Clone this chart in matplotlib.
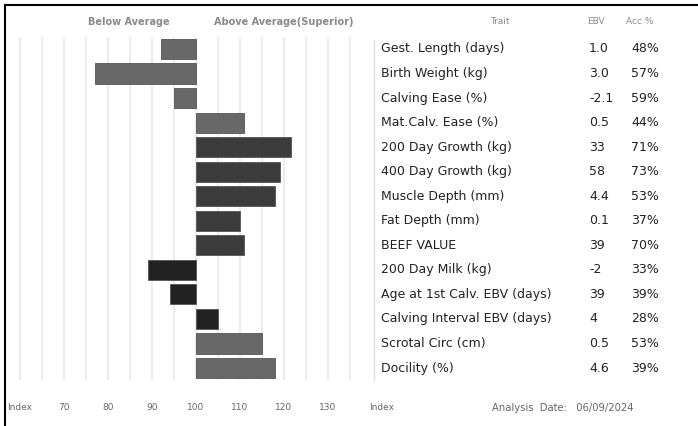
import matplotlib.pyplot as plt
from matplotlib.lines import Line2D
from matplotlib.transforms import blended_transform_factory

# ── data ─────────────────────────────────────────────
traits = [
    "Gest. Length (days)", "Birth Weight (kg)", "Calving Ease (%)",
    "Mat.Calv. Ease (%)", "200 Day Growth (kg)", "400 Day Growth (kg)",
    "Muscle Depth (mm)", "Fat Depth (mm)", "BEEF VALUE", "200 Day Milk (kg)",
    "Age at 1st Calv. EBV (days)", "Calving Interval EBV (days)",
    "Scrotal Circ (cm)", "Docility (%)",
]
ebv = ["1.0", "3.0", "-2.1", "0.5", "33", "58", "4.4", "0.1", "39", "-2",
       "39", "4", "0.5", "4.6"]
acc = ["48%", "57%", "59%", "44%", "71%", "73%", "53%", "37%", "70%", "33%",
       "39%", "28%", "53%", "39%"]
index_vals = [92, 77, 95, 111, 121.5, 119, 118, 110, 111, 89, 94, 105, 115, 118]
index_ticks = [70, 80, 90, 100, 110, 120, 130]
analysis_date = "06/09/2024"

# ── styles ───────────────────────────────────────────
GRAY, DARK, BLACK = "#686868", "#3c3c3c", "#222222"
bar_colors = [GRAY] * 4 + [DARK] * 5 + [BLACK] * 3 + [GRAY] * 2

W, H = 698, 426
fig = plt.figure(figsize=(W / 100, H / 100), dpi=100)
fig.patch.set_facecolor("white")

def fx(px):
    return px / W

def fy(py):
    return 1 - py / H

# bar axes: x pixel = 196 + (v - 100) * 4.4
left_px, right_px = 5, 370
top_px, bot_px = 36.7, 380.3
ax = fig.add_axes([fx(left_px), fy(bot_px), fx(right_px - left_px), (bot_px - top_px) / H])
ax.set_xlim(100 - (196 - left_px) / 4.4, 100 + (right_px - 196) / 4.4)
ax.set_ylim(len(traits) - 0.5, -0.5)
ax.axis("off")

for g in range(60, 140, 5):
    ax.axvline(g, color="#ececec", lw=1.5, zorder=0)

rows = list(range(len(traits)))
ax.barh(rows, [v - 100 for v in index_vals], left=100, height=0.82,
        color=bar_colors, edgecolor="#555555", linewidth=0.6, zorder=2)

# bottom index labels
tr = blended_transform_factory(ax.transData, fig.transFigure)
lab_y = fy(408)
small = dict(fontsize=6.5, color="#666666", family="DejaVu Sans", va="center")
ax.text(60, lab_y, "Index", ha="center", transform=tr, **small)
for t in index_ticks:
    ax.text(t, lab_y, str(t), ha="center", transform=tr, **small)
fig.text(fx(382), lab_y, "Index", ha="center", **small)
fig.text(fx(563), lab_y, "Analysis  Date:   " + analysis_date, ha="center",
         **dict(small, fontsize=7.2))

# headers
head = dict(fontsize=7, color="#8a8a8a", family="DejaVu Sans", va="center",
            fontweight="bold")
fig.text(fx(129), fy(22), "Below Average", ha="center", **head)
fig.text(fx(284), fy(22), "Above Average(Superior)", ha="center", **head)
light = dict(fontsize=6.5, color="#8a8a8a", family="DejaVu Sans", va="center")
fig.text(fx(500), fy(22), "Trait", ha="center", **light)
fig.text(fx(596), fy(22), "EBV", ha="center", **light)
fig.text(fx(640), fy(22), "Acc %", ha="center", **light)

# trait table
ax_t = fig.add_axes([fx(370), fy(bot_px), fx(W - 370), (bot_px - top_px) / H])
ax_t.set_xlim(370, W)
ax_t.set_ylim(len(traits) - 0.5, -0.5)
ax_t.axis("off")
row_font = dict(fontsize=9, color="#222222", family="DejaVu Sans", va="center")
for i, (tr_name, e, a) in enumerate(zip(traits, ebv, acc)):
    ax_t.text(381, i, tr_name, ha="left", **row_font)
    ax_t.text(589, i, e, ha="left", **row_font)
    ax_t.text(631, i, a, ha="left", **row_font)

# separator + frame
fig.add_artist(Line2D([fx(374), fx(374)], [fy(40), fy(380)], color="#dddddd", lw=1))
fig.add_artist(Line2D([fx(5), fx(5)], [fy(5), 0], color="black", lw=1.5))
fig.add_artist(Line2D([fx(5), 1], [fy(5), fy(5)], color="black", lw=1.5))

fig.savefig("out.png", dpi=100)
